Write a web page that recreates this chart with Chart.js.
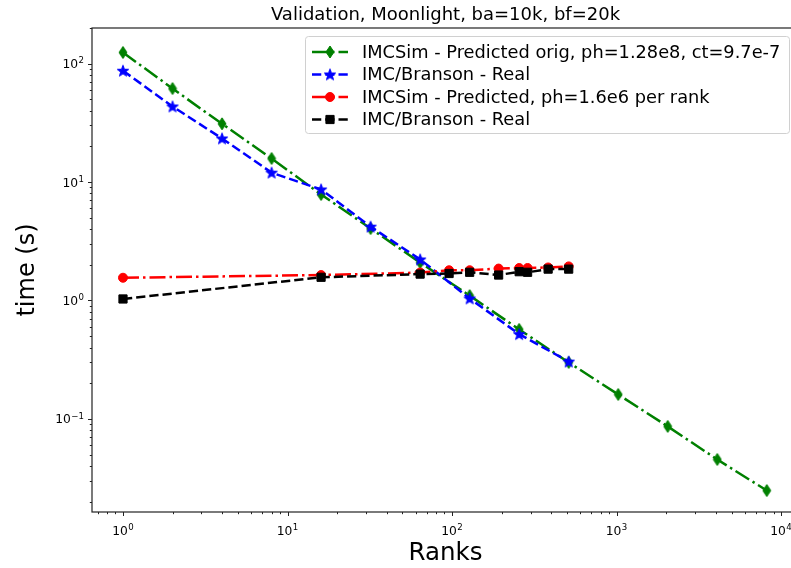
<!DOCTYPE html>
<html>
<head>
<meta charset="utf-8">
<script src="https://cdn.jsdelivr.net/npm/chart.js@4"></script>
<style>
  html, body { margin: 0; padding: 0; background: #fff; overflow: hidden; }
  #wrap { width: 800px; height: 568px; }
</style>
</head>
<body>
<div id="wrap"><canvas id="scaling" width="800" height="568"></canvas></div>
<script>
// Strong scaling (ranks 1..8192) and weak scaling (ph per rank) timings
const ranksPred = [1, 2, 4, 8, 16, 32, 64, 128, 256, 512, 1024, 2048, 4096, 8192];
const predOrig = [124, 61.5, 31, 15.8, 7.85, 4.05, 2.09, 1.1, 0.57, 0.30, 0.161, 0.0865, 0.0455, 0.0249];

const ranksReal = [1, 2, 4, 8, 16, 32, 64, 128, 256, 512];
const realStrong = [87, 43.4, 23.3, 12, 8.65, 4.2, 2.22, 1.04, 0.52, 0.305];

const ranksWeak = [1, 16, 64, 96, 128, 192, 256, 288, 384, 512];
const predWeak = [1.556, 1.64, 1.72, 1.8, 1.8, 1.86, 1.88, 1.88, 1.9, 1.94];
const realWeak = [1.03, 1.57, 1.67, 1.69, 1.73, 1.64, 1.75, 1.73, 1.84, 1.84];

const seriesLabels = [
    'IMCSim - Predicted orig, ph=1.28e8, ct=9.7e-7',
    'IMC/Branson - Real',
    'IMCSim - Predicted, ph=1.6e6 per rank',
    'IMC/Branson - Real'
];
const titleText = 'Validation, Moonlight, ba=10k, bf=20k';
const xDecades = [0, 1, 2, 3, 4];
const yDecades = [-1, 0, 1, 2];
const xRange = [0.648, 12860];
const yRange = [0.0164, 199.5];

const FONT = "'DejaVu Sans', sans-serif";
const LW = 2.5;
const DASHED = [3.7 * LW, 1.6 * LW];
const DASHDOT = [6.4 * LW, 1.6 * LW, 1 * LW, 1.6 * LW];

// ─── custom marker shapes (matplotlib 'd' and '*') ─────────────────────
function markerCanvas(w, h, color, pathFn) {
    const c = document.createElement('canvas');
    c.width = w; c.height = h;
    const g = c.getContext('2d');
    g.fillStyle = color;
    g.strokeStyle = color;
    g.lineWidth = 1;
    g.beginPath();
    pathFn(g, w, h);
    g.closePath();
    g.fill();
    g.stroke();
    return c;
}

const thinDiamond = markerCanvas(10, 14, 'green', (g, w, h) => {
    g.moveTo(w / 2, 1);
    g.lineTo(w - 1, h / 2);
    g.lineTo(w / 2, h - 1);
    g.lineTo(1, h / 2);
});

const star = markerCanvas(14, 14, 'blue', (g, w, h) => {
    const cx = w / 2, cy = h / 2 + 0.5, R = 6, r = 2.5;
    for (let i = 0; i < 10; i++) {
        const a = -Math.PI / 2 + i * Math.PI / 5;
        const rad = i % 2 === 0 ? R : r;
        const px = cx + rad * Math.cos(a), py = cy + rad * Math.sin(a);
        if (i === 0) g.moveTo(px, py); else g.lineTo(px, py);
    }
});

function pts(xs, ys) {
    return xs.map((x, i) => ({ x: x, y: ys[i] }));
}

function series(label, xs, ys, color, dash, style, radius, order) {
    return {
        label: label,
        data: pts(xs, ys),
        borderColor: color,
        backgroundColor: color,
        borderWidth: LW,
        borderDash: dash,
        pointStyle: style,
        pointRadius: radius,
        pointBorderWidth: 1,
        pointBackgroundColor: color,
        pointBorderColor: color,
        tension: 0,
        fill: false,
        order: order
    };
}

// "10" with a raised exponent, like matplotlib's mathtext labels
function powerLabel(ctx, e, x, baseline, size, align) {
    const exp = e < 0 ? '\u2212' + Math.abs(e) : String(e);
    ctx.font = size + 'px ' + FONT;
    const wBase = ctx.measureText('10').width;
    ctx.font = (size * 0.7) + 'px ' + FONT;
    const wExp = ctx.measureText(exp).width;
    const total = wBase + wExp + 0.5;
    let x0 = align === 'right' ? x - total : x - total / 2;
    ctx.textAlign = 'left';
    ctx.textBaseline = 'alphabetic';
    ctx.font = size + 'px ' + FONT;
    ctx.fillText('10', x0, baseline);
    ctx.font = (size * 0.7) + 'px ' + FONT;
    ctx.fillText(exp, x0 + wBase + 0.5, baseline - size * 0.38);
}

// ─── frame, log tick marks and labels, matplotlib-style legend ─────────
const decor = {
    id: 'decor',
    afterDraw(chart) {
        const { ctx, chartArea: a, scales } = chart;
        ctx.save();
        ctx.strokeStyle = '#222';
        ctx.lineWidth = 1.2;
        ctx.strokeRect(a.left, a.top, a.right - a.left, a.bottom - a.top);

        ctx.lineWidth = 1;
        ctx.beginPath();
        for (let e = -3; e <= 5; e++) {
            for (let m = 1; m <= 9; m++) {
                const v = m * Math.pow(10, e);
                const len = m === 1 ? 4 : 2.2;
                const px = scales.x.getPixelForValue(v);
                if (px >= a.left - 0.5 && px <= a.right + 0.5) {
                    const xx = Math.round(px) + 0.5;
                    ctx.moveTo(xx, a.bottom);
                    ctx.lineTo(xx, a.bottom + len);
                }
                const py = scales.y.getPixelForValue(v);
                if (py >= a.top - 0.5 && py <= a.bottom + 0.5) {
                    const yy = Math.round(py) + 0.5;
                    ctx.moveTo(a.left, yy);
                    ctx.lineTo(a.left - len, yy);
                }
            }
        }
        ctx.stroke();

        ctx.fillStyle = '#000';
        xDecades.forEach(e => {
            powerLabel(ctx, e, scales.x.getPixelForValue(Math.pow(10, e)), a.bottom + 23, 12.3, 'center');
        });
        yDecades.forEach(e => {
            powerLabel(ctx, e, a.left - 8, scales.y.getPixelForValue(Math.pow(10, e)) + 4.5, 12.3, 'right');
        });

        // legend
        const bx = 305.5, by = 36.5, bw = 484, bh = 97, rr = 3;
        ctx.beginPath();
        ctx.moveTo(bx + rr, by);
        ctx.arcTo(bx + bw, by, bx + bw, by + bh, rr);
        ctx.arcTo(bx + bw, by + bh, bx, by + bh, rr);
        ctx.arcTo(bx, by + bh, bx, by, rr);
        ctx.arcTo(bx, by, bx + bw, by, rr);
        ctx.closePath();
        ctx.fillStyle = 'rgba(255,255,255,0.8)';
        ctx.fill();
        ctx.strokeStyle = '#d0d0d0';
        ctx.lineWidth = 1;
        ctx.stroke();

        chart.data.datasets.forEach((ds, i) => {
            const y = 52 + i * 22.5;
            ctx.save();
            ctx.strokeStyle = ds.borderColor;
            ctx.lineWidth = LW;
            ctx.setLineDash(ds.borderDash);
            ctx.beginPath();
            ctx.moveTo(312, y);
            ctx.lineTo(348, y);
            ctx.stroke();
            ctx.setLineDash([]);
            ctx.fillStyle = ds.pointBackgroundColor;
            ctx.strokeStyle = ds.pointBorderColor;
            ctx.lineWidth = 1;
            Chart.helpers.drawPoint(ctx, { pointStyle: ds.pointStyle, radius: ds.pointRadius, borderWidth: 1, rotation: 0 }, 330, y);
            ctx.restore();

            ctx.fillStyle = '#000';
            ctx.font = '17.8px ' + FONT;
            ctx.textBaseline = 'middle';
            ctx.textAlign = 'left';
            ctx.fillText(ds.label, 362, y + 1);
        });
        ctx.restore();
    }
};

new Chart(document.getElementById('scaling'), {
    type: 'line',
    data: {
        datasets: [
            series(seriesLabels[0], ranksPred, predOrig, 'green', DASHDOT, thinDiamond, 6, 4),
            series(seriesLabels[1], ranksReal, realStrong, 'blue', DASHED, star, 6, 3),
            series(seriesLabels[2], ranksWeak, predWeak, 'red', DASHDOT, 'circle', 4.5, 2),
            series(seriesLabels[3], ranksWeak, realWeak, 'black', DASHED, 'rect', 5.8, 1)
        ]
    },
    options: {
        responsive: false,
        animation: false,
        layout: { autoPadding: false, padding: { left: 0, right: 1, top: 0, bottom: 0 } },
        plugins: {
            legend: { display: false },
            tooltip: { enabled: false },
            title: {
                display: true,
                fullSize: false,
                text: titleText,
                color: '#000',
                font: { family: FONT, size: 18, weight: 'normal' },
                padding: { top: 5, bottom: 1.4 }
            }
        },
        scales: {
            x: {
                type: 'logarithmic',
                bounds: 'data',
                min: xRange[0],
                max: xRange[1],
                border: { display: false },
                grid: { display: false },
                ticks: { display: false },
                title: {
                    display: true, text: 'Ranks', color: '#000',
                    font: { family: FONT, size: 24.5 }, padding: { top: 0, bottom: 0 }
                },
                afterBuildTicks: s => { s.min = xRange[0]; s.max = xRange[1]; },
                afterFit: s => { s.height = 56; s.paddingLeft = 0; s.paddingRight = 0; }
            },
            y: {
                type: 'logarithmic',
                bounds: 'data',
                min: yRange[0],
                max: yRange[1],
                border: { display: false },
                grid: { display: false },
                ticks: { display: false },
                title: {
                    display: true, text: 'time (s)', color: '#000',
                    font: { family: FONT, size: 24 }, padding: { top: 13, bottom: 0 }
                },
                afterBuildTicks: s => { s.min = yRange[0]; s.max = yRange[1]; },
                afterFit: s => { s.width = 92; s.paddingTop = 0; s.paddingBottom = 0; }
            }
        }
    },
    plugins: [decor]
});
</script>
</body>
</html>
